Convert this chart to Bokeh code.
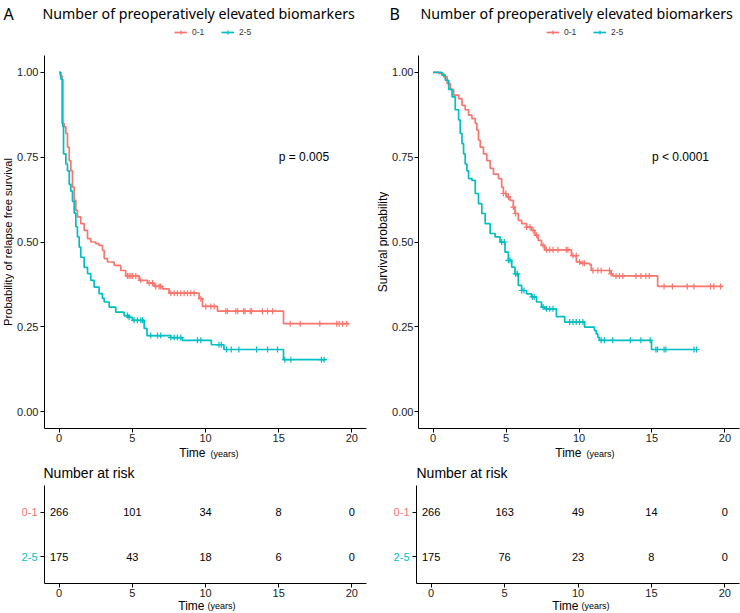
import numpy as np
from bokeh.plotting import figure
from bokeh.layouts import column, row
from bokeh.models import Legend, LegendItem, FixedTicker, Range1d
from bokeh.core.properties import value
from bokeh.embed import file_html
from bokeh.resources import INLINE

RED = "#F8766D"
TEAL = "#00BFC4"
groups = ["0-1", "2-5"]
title_text = "Number of preoperatively elevated biomarkers"

# ---------------- Panel A: relapse free survival ----------------
a_time_01 = [0.00, 0.08, 0.20, 0.34, 0.46, 0.57, 0.69, 0.80, 0.91, 1.03, 1.14, 1.25, 1.48, 1.71, 1.94,
             2.16, 2.50, 2.73, 2.96, 3.08, 3.30, 3.76, 4.21, 4.55, 5.47, 6.04, 6.49, 7.06, 7.51, 9.56,
             9.79, 10.82, 15.33]
a_surv_01 = [1.000, 0.990, 0.850, 0.840, 0.820, 0.780, 0.740, 0.710, 0.662, 0.623, 0.593, 0.574, 0.554,
             0.534, 0.510, 0.500, 0.495, 0.490, 0.475, 0.451, 0.441, 0.431, 0.416, 0.400, 0.387, 0.379,
             0.369, 0.362, 0.349, 0.333, 0.310, 0.296, 0.259]
a_end_01 = 19.81
a_cens_01 = [4.67, 4.78, 4.90, 5.01, 5.24, 5.58, 6.15, 6.38, 6.60, 6.83, 6.94, 7.63, 7.86, 8.08, 8.31,
             8.54, 8.77, 8.99, 9.22, 9.68, 10.02, 10.36, 10.59, 11.39, 11.50, 12.07, 12.20, 12.60, 12.70,
             13.05, 13.15, 13.89, 14.24, 14.58, 15.79, 16.47, 17.81, 18.97, 19.13, 19.36, 19.65]

a_time_25 = [0.00, 0.12, 0.25, 0.30, 0.46, 0.57, 0.69, 0.80, 0.91, 1.03, 1.14, 1.25, 1.37, 1.48, 1.71,
             1.94, 2.16, 2.39, 2.73, 2.96, 3.08, 3.42, 3.87, 4.44, 4.78, 5.01, 5.81, 6.00, 7.62, 8.42,
             10.40, 11.26, 15.33]
a_surv_25 = [1.000, 0.980, 0.840, 0.760, 0.730, 0.710, 0.670, 0.650, 0.620, 0.585, 0.545, 0.515, 0.485,
             0.455, 0.425, 0.407, 0.387, 0.367, 0.348, 0.334, 0.323, 0.308, 0.293, 0.283, 0.278, 0.269,
             0.245, 0.224, 0.218, 0.210, 0.197, 0.183, 0.153]
a_end_25 = 18.2
a_cens_25 = [4.67, 4.78, 5.12, 5.35, 5.58, 5.70, 6.26, 6.72, 6.94, 7.63, 7.86, 8.08, 8.31, 9.45, 9.68,
             10.92, 11.08, 11.44, 11.76, 12.28, 13.49, 14.24, 14.92, 15.42, 15.83, 17.92, 18.10]

# ---------------- Panel B: overall survival ----------------
b_time_01 = [0.00, 0.39, 0.73, 0.96, 1.18, 1.41, 1.75, 1.98, 2.20, 2.43, 2.66, 2.89, 3.00, 3.11, 3.23,
             3.45, 3.68, 3.91, 4.14, 4.48, 4.70, 4.82, 5.04, 5.27, 5.50, 5.61, 5.84, 6.07, 6.41, 6.75,
             6.98, 7.20, 7.43, 7.66, 9.48, 9.82, 10.15, 10.72, 10.84, 12.20, 12.32, 15.39]
b_surv_01 = [1.000, 0.997, 0.987, 0.967, 0.950, 0.933, 0.923, 0.903, 0.890, 0.874, 0.864, 0.850, 0.830,
             0.800, 0.780, 0.760, 0.740, 0.717, 0.700, 0.687, 0.662, 0.643, 0.633, 0.623, 0.603, 0.584,
             0.564, 0.554, 0.544, 0.534, 0.520, 0.505, 0.490, 0.477, 0.460, 0.441, 0.437, 0.433, 0.416,
             0.406, 0.400, 0.369]
b_end_01 = 19.82
b_cens_01 = [4.82, 4.98, 5.16, 5.50, 5.66, 6.41, 6.64, 6.86, 7.09, 7.54, 7.77, 8.00, 8.22, 8.56, 9.13,
             9.24, 9.59, 9.81, 10.04, 10.27, 10.38, 10.95, 11.29, 11.52, 12.09, 12.20, 12.54, 12.77,
             13.00, 13.90, 14.24, 14.58, 14.81, 15.83, 16.40, 17.42, 17.88, 19.01, 19.24, 19.70]

b_time_25 = [0.00, 0.61, 0.84, 1.07, 1.30, 1.52, 1.75, 1.86, 1.98, 2.09, 2.20, 2.32, 2.43, 2.66, 2.89,
             3.11, 3.34, 3.57, 3.91, 4.25, 4.59, 4.93, 5.16, 5.39, 5.61, 5.84, 6.07, 6.41, 6.75, 7.09,
             7.43, 7.66, 8.45, 9.02, 10.38, 11.06, 11.18, 11.29, 11.40, 14.97]
b_surv_25 = [1.000, 0.992, 0.977, 0.950, 0.928, 0.890, 0.860, 0.820, 0.790, 0.760, 0.730, 0.710, 0.687,
             0.682, 0.643, 0.613, 0.584, 0.554, 0.525, 0.515, 0.500, 0.470, 0.446, 0.426, 0.406, 0.372,
             0.357, 0.347, 0.338, 0.323, 0.308, 0.303, 0.280, 0.264, 0.249, 0.239, 0.229, 0.219, 0.210,
             0.183]
b_end_25 = 18.1
b_cens_25 = [4.70, 4.88, 5.16, 5.27, 5.66, 5.77, 6.07, 6.23, 6.80, 6.93, 7.54, 7.77, 8.00, 8.22, 9.36,
             9.59, 9.81, 10.04, 10.27, 11.52, 11.74, 12.31, 13.52, 14.24, 14.88, 15.27, 15.38, 15.83,
             15.95, 17.88, 18.06]

# ---------------- Number at risk ----------------
risk_times = [0, 5, 10, 15, 20]
a_risk_01 = [266, 101, 34, 8, 0]
a_risk_25 = [175, 43, 18, 6, 0]
b_risk_01 = [266, 163, 49, 14, 0]
b_risk_25 = [175, 76, 23, 8, 0]
risk_rows = [2, 1]          # row position of groups "0-1", "2-5"

x_ticks = [0, 5, 10, 15, 20]
y_ticks = [0, 0.25, 0.5, 0.75, 1.0]
y_tick_labels = ["0.00", "0.25", "0.50", "0.75", "1.00"]

a_pval = "p = 0.005"
b_pval = "p < 0.0001"
pval_x, pval_y = 15.0, 0.75

a_ylabel = "Probability of relapse free survival"
b_ylabel = "Survival probability"

SANS = "Liberation Sans"
TFONT = "Noto Sans"
TICK_SIZE = "11px"

W = 740
HEADER_H = 55
MAIN_FRAME_H = 373
MAIN_BOTTOM = 19
MID_H = 38
RISK_FRAME_H = 98
RISK_BOTTOM = 16
FOOT_H = 13


def base_fig(width, height, xr, yr, bl=0, br=0, bt=0, bb=0, axes=True):
    kw = dict(width=width, height=height, x_range=xr, y_range=yr, output_backend="svg",
              toolbar_location=None, tools="", min_border_left=bl, min_border_right=br,
              min_border_top=bt, min_border_bottom=bb)
    if not axes:
        kw.update(x_axis_type=None, y_axis_type=None)
    f = figure(**kw)
    f.outline_line_color = None
    f.background_fill_alpha = 0
    f.border_fill_alpha = 0
    if axes:
        f.xgrid.visible = False
        f.ygrid.visible = False
        for ax in (f.xaxis[0], f.yaxis[0]):
            ax.axis_line_color = "black"
            ax.axis_line_width = 1
            ax.major_tick_line_color = "black"
            ax.major_tick_out = 4
            ax.major_tick_in = 0
            ax.minor_tick_line_color = None
            ax.major_label_text_font = SANS
            ax.major_label_text_font_size = TICK_SIZE
            ax.major_label_text_color = "#222222"
        f.xaxis.major_label_standoff = 1
        f.yaxis.major_label_standoff = 2
        f.xaxis.ticker = FixedTicker(ticks=x_ticks)
    return f


def txt(f, x, y, text, size, align="left", color="black", font=SANS, angle=0.0):
    f.text(x=[x], y=[y], text=[text], text_font=value(font), text_font_size=size,
           text_color=color, text_align=align, text_baseline="middle", angle=angle)


def km_panel(width, bl, br, curves, pval):
    p = base_fig(width, MAIN_FRAME_H + MAIN_BOTTOM, Range1d(-1, 21), Range1d(-0.05, 1.05),
                 bl=bl, br=br, bb=MAIN_BOTTOM)
    p.yaxis.ticker = FixedTicker(ticks=y_ticks)
    p.yaxis.major_label_overrides = {t: s for t, s in zip(y_ticks, y_tick_labels)}
    for name, times, surv, end, cens, color in curves:
        xs = list(times) + [end]
        ys = list(surv) + [surv[-1]]
        p.step(xs, ys, mode="after", line_color=color, line_width=1.7)
        idx = np.searchsorted(np.array(times), np.array(cens), side="right") - 1
        cy = np.array(surv)[idx]
        p.scatter(cens, cy, marker="cross", size=6, line_color=color, line_width=1.2)
    txt(p, pval_x, pval_y, pval, "12px")
    return p


def ylab_panel(width, text, size):
    f = base_fig(width, MAIN_FRAME_H + MAIN_BOTTOM, Range1d(0, width), Range1d(-0.05, 1.05),
                 bb=MAIN_BOTTOM, axes=False)
    txt(f, width / 2, 0.5, text, size, align="center", angle=np.pi / 2)
    return f


def risk_panel(width, bl, br, risk01, risk25):
    r = base_fig(width, RISK_FRAME_H + RISK_BOTTOM, Range1d(-1, 21), Range1d(0.4, 2.6),
                 bl=bl, br=br, bb=RISK_BOTTOM)
    r.yaxis.ticker = FixedTicker(ticks=risk_rows)
    r.yaxis.major_label_overrides = {1: "", 2: ""}
    r.yaxis.major_label_standoff = 0
    for level, counts in zip(risk_rows, (risk01, risk25)):
        r.text(x=risk_times, y=[level] * len(risk_times), text=[str(c) for c in counts],
               text_align="center", text_baseline="middle", text_font_size="11px",
               text_color="black", text_font=value(SANS))
    return r


def rowlab_panel(width):
    f = base_fig(width, RISK_FRAME_H + RISK_BOTTOM, Range1d(0, width), Range1d(0.4, 2.6),
                 bb=RISK_BOTTOM, axes=False)
    for level, name, color in zip(risk_rows, groups, (RED, TEAL)):
        txt(f, width - 1, level, name, "11px", align="right", color=color)
    return f


# ---------------- header: panel letters, titles, legends ----------------
header = base_fig(W, HEADER_H, Range1d(0, W), Range1d(HEADER_H, 0), axes=False)
txt(header, 3, 13, "A", "16px", font=TFONT)
txt(header, 42, 13, title_text, "14.2px", font=TFONT)
txt(header, 389, 13, "B", "16px", font=TFONT)
txt(header, 420, 13, title_text, "14.2px", font=TFONT)
for lx in (174, 546):
    items = []
    for name, color in zip(groups, (RED, TEAL)):
        # legend keys only: a single point placed off the visible header area
        ln = header.line([-60, -50], [-60, -60], line_color=color, line_width=1.7)
        sc = header.scatter([-55], [-60], marker="cross", size=6, line_color=color, line_width=1.2)
        items.append(LegendItem(label=name, renderers=[ln, sc]))
    header.add_layout(Legend(items=items, orientation="horizontal", location=(lx, 18),
                             label_text_font=SANS, label_text_font_size="8.5px",
                             label_text_color="#333333", glyph_width=13, glyph_height=10,
                             label_standoff=5, spacing=9, padding=0, margin=0,
                             border_line_color=None, background_fill_alpha=0))

# ---------------- main panels ----------------
ylabA = ylab_panel(14, a_ylabel, "11.2px")
pA = km_panel(362, 30, 10,
              [(groups[0], a_time_01, a_surv_01, a_end_01, a_cens_01, RED),
               (groups[1], a_time_25, a_surv_25, a_end_25, a_cens_25, TEAL)], a_pval)
ylabB = ylab_panel(13, b_ylabel, "12px")
pB = km_panel(351, 27, 1,
              [(groups[0], b_time_01, b_surv_01, b_end_01, b_cens_01, RED),
               (groups[1], b_time_25, b_surv_25, b_end_25, b_cens_25, TEAL)], b_pval)
pB.yaxis.major_label_standoff = 1

# ---------------- band between: axis titles + "Number at risk" ----------------
mid = base_fig(W, MID_H, Range1d(0, W), Range1d(MID_H, 0), axes=False)
for tx in (205, 581):
    txt(mid, tx, 5.5, "Time", "12px", align="right")
    txt(mid, tx + 5, 6, "(years)", "9px")
txt(mid, 43, 25, "Number at risk", "14px")
txt(mid, 416, 25, "Number at risk", "14px")

# ---------------- risk tables ----------------
rlabA = rowlab_panel(38)
rA = risk_panel(338, 6, 10, a_risk_01, a_risk_25)
rlabB = rowlab_panel(34)
rB = risk_panel(330, 6, 1, b_risk_01, b_risk_25)

foot = base_fig(W, FOOT_H, Range1d(0, W), Range1d(FOOT_H, 0), axes=False)
for tx in (204, 578):
    txt(foot, tx, 6.5, "Time", "12px", align="right")
    txt(foot, tx + 3, 6.5, "(years)", "9px")

layout = column(header, row(ylabA, pA, ylabB, pB), mid, row(rlabA, rA, rlabB, rB), foot)
open("out.html", "w").write(file_html(layout, INLINE))
